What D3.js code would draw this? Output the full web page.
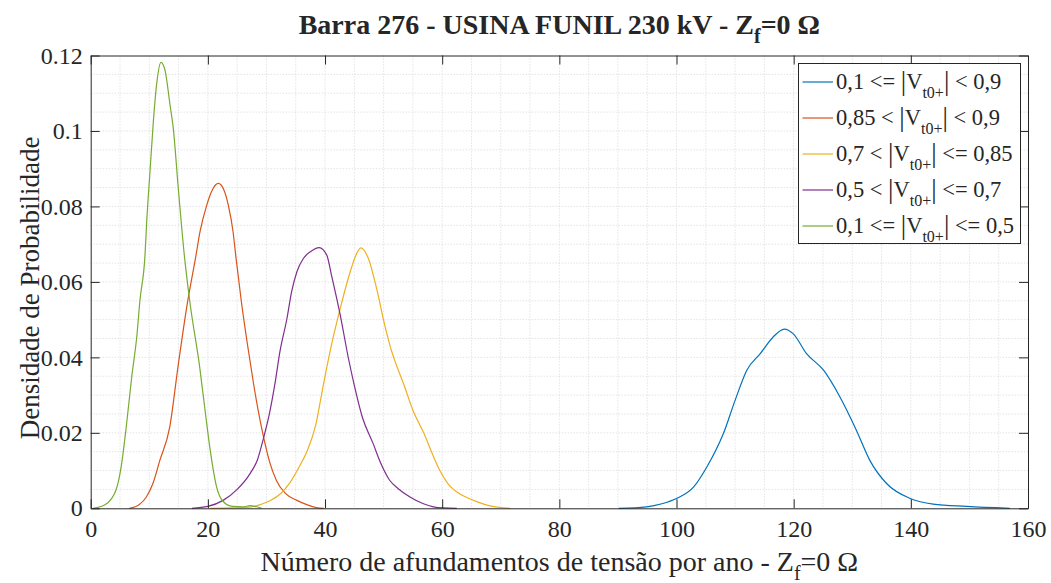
<!DOCTYPE html>
<html>
<head>
<meta charset="utf-8">
<script src="https://cdn.jsdelivr.net/npm/d3@7/dist/d3.min.js"></script>
<style>
  html, body { margin: 0; padding: 0; background: #fff; }
  svg { display: block; }
  text { font-family: "Liberation Serif", "Times New Roman", serif; fill: #262626; }
</style>
</head>
<body>
<svg id="chart" width="1051" height="583"></svg>
<script>
// Kernel density estimates of annual voltage sag counts, per residual-voltage band
const xTicks = [0, 20, 40, 60, 80, 100, 120, 140, 160];
const yTicks = [0, 0.02, 0.04, 0.06, 0.08, 0.1, 0.12];
const yTickLabels = ["0", "0.02", "0.04", "0.06", "0.08", "0.1", "0.12"];

// 0,1 <= |V| < 0,9
const densAll = [
  [90.1, 0], [94.9, 0.0004], [97.5, 0.0012], [100.0, 0.0026], [102.9, 0.0056], [105.2, 0.011],
  [108.0, 0.0198], [110.0, 0.0286], [112.0, 0.0366], [114.3, 0.041], [116.5, 0.0454],
  [118.4, 0.0475], [119.9, 0.0463], [122.2, 0.041], [125.1, 0.0366], [127.9, 0.0295],
  [130.7, 0.0207], [133.0, 0.0127], [135.9, 0.0065], [139.9, 0.0026], [143.8, 0.0011],
  [149.5, 0.0005], [156.9, 0]
];
// 0,85 < |V| < 0,9
const dens085 = [
  [6.6, 0], [8.3, 0.001], [9.5, 0.003], [10.6, 0.0065], [11.8, 0.0127], [13.5, 0.0216],
  [14.9, 0.0375], [16.4, 0.0534], [17.98, 0.0671], [18.66, 0.0733], [19.8, 0.0803],
  [20.8, 0.0845], [21.78, 0.0861], [22.7, 0.0845], [23.5, 0.0803], [24.3, 0.0733],
  [24.75, 0.0671], [25.7, 0.055], [26.7, 0.044], [27.8, 0.033], [28.7, 0.025],
  [29.5, 0.0189], [30.5, 0.0125], [31.7, 0.0074], [33.2, 0.004], [35.2, 0.0021],
  [37.0, 0.0009], [38.5, 0.0002], [39.8, 0]
];
// 0,7 < |V| <= 0,85
const dens07 = [
  [20.4, 0], [24.0, 0.0001], [27.2, 0.0003], [29.0, 0.001], [30.6, 0.002], [32.5, 0.004],
  [34.1, 0.007], [35.6, 0.011], [37.0, 0.0154], [38.4, 0.022], [39.7, 0.0326],
  [41.1, 0.0433], [42.6, 0.053], [44.3, 0.0627], [45.2, 0.0668], [46.1, 0.069],
  [47.4, 0.0662], [48.8, 0.0583], [50.2, 0.0485], [51.4, 0.0415], [52.2, 0.0379],
  [53.5, 0.0326], [55.0, 0.026], [56.9, 0.0198], [58.3, 0.0145], [59.6, 0.010],
  [61.0, 0.0065], [62.5, 0.0043], [64.3, 0.0028], [66.0, 0.0017], [68.0, 0.0007],
  [70.0, 0.0002], [71.6, 0]
];
// 0,5 < |V| <= 0,7
const dens05 = [
  [17.3, 0], [20.0, 0.0005], [22.6, 0.0021], [25.0, 0.005], [27.2, 0.0092], [28.5, 0.013],
  [29.4, 0.018], [30.5, 0.025], [31.5, 0.0335], [32.3, 0.0415], [33.5, 0.0503],
  [34.3, 0.0574], [35.2, 0.0627], [36.3, 0.0662], [37.5, 0.068], [39.0, 0.0691],
  [40.3, 0.0671], [41.1, 0.0618], [42.6, 0.0512], [44.0, 0.0397], [45.0, 0.0326],
  [46.4, 0.024], [48.2, 0.0172], [49.5, 0.012], [51.0, 0.0075], [52.5, 0.0052],
  [54.5, 0.003], [56.8, 0.0012], [58.5, 0.0004], [60.3, 0.0001], [62.5, 0]
];
// 0,1 <= |V| <= 0,5
const dens01 = [
  [0.4, 0], [2.5, 0.001], [4.3, 0.0048], [5.2, 0.011], [6.1, 0.022], [7.0, 0.0348],
  [7.9, 0.046], [8.4, 0.055], [9.27, 0.0671], [9.56, 0.0759], [10.12, 0.0892],
  [10.69, 0.1024], [11.3, 0.113], [12.0, 0.1182], [12.7, 0.116], [13.54, 0.1069],
  [14.1, 0.1007], [14.95, 0.0848], [15.98, 0.0671], [16.9, 0.055], [18.6, 0.0375],
  [19.6, 0.025], [20.4, 0.0154], [21.5, 0.0056], [22.5, 0.002], [24.2, 0.0005],
  [26.0, 0.0004], [27.2, 0.0007], [28.3, 0.0004], [29.2, 0]
];

const seriesData = [densAll, dens085, dens07, dens05, dens01];
const seriesColors = ["#0072BD", "#D95319", "#EDB120", "#7E2F8E", "#77AC30"];
// legend label pieces: text before |V_t0+| and text after it
const legendPrefix = ["0,1 <= ", "0,85 < ", "0,7 < ", "0,5 < ", "0,1 <= "];
const legendSuffix = [" < 0,9", " < 0,9", " <= 0,85", " <= 0,7", " <= 0,5"];

const svg = d3.select("#chart");
const margin = { left: 90.7, right: 1028, top: 55.5, bottom: 508.3 };

const x = d3.scaleLinear().domain([0, 160]).range([margin.left, margin.right]);
const y = d3.scaleLinear().domain([0, 0.12]).range([margin.bottom, margin.top]);

// grid (major + minor, dotted)
const grid = svg.append("g");
grid.selectAll("line.gx").data(d3.range(5, 160, 5)).join("line")
  .attr("x1", d => x(d)).attr("x2", d => x(d))
  .attr("y1", margin.top).attr("y2", margin.bottom)
  .attr("stroke", "#d6d6d6").attr("stroke-width", 1).attr("stroke-dasharray", "1,2");
grid.selectAll("line.gy").data(d3.range(1, 24).map(i => i * 0.005)).join("line")
  .attr("y1", d => y(d)).attr("y2", d => y(d))
  .attr("x1", margin.left).attr("x2", margin.right)
  .attr("stroke", "#d6d6d6").attr("stroke-width", 1).attr("stroke-dasharray", "1,2");

// curves
const line = d3.line()
  .x(d => x(d[0]))
  .y(d => y(d[1]))
  .curve(d3.curveMonotoneX);

svg.append("g").selectAll("path").data(seriesData).join("path")
  .attr("d", d => line(d))
  .attr("fill", "none")
  .attr("stroke", (d, i) => seriesColors[i])
  .attr("stroke-width", 1.2);

// axes with inward ticks on all four sides
const tickLen = 9;
const axB = svg.append("g").attr("transform", `translate(0,${margin.bottom})`)
  .call(d3.axisBottom(x).tickValues(xTicks).tickSizeInner(-tickLen).tickSizeOuter(0).tickPadding(12));
const axT = svg.append("g").attr("transform", `translate(0,${margin.top})`)
  .call(d3.axisTop(x).tickValues(xTicks).tickSizeInner(-tickLen).tickSizeOuter(0).tickFormat(""));
const axL = svg.append("g").attr("transform", `translate(${margin.left},0)`)
  .call(d3.axisLeft(y).tickValues(yTicks).tickSizeInner(-tickLen).tickSizeOuter(0).tickPadding(8)
    .tickFormat((d, i) => yTickLabels[i]));
const axR = svg.append("g").attr("transform", `translate(${margin.right},0)`)
  .call(d3.axisRight(y).tickValues(yTicks).tickSizeInner(-tickLen).tickSizeOuter(0).tickFormat(""));

[axB, axT, axL, axR].forEach(a => {
  a.selectAll(".domain").attr("stroke", "#262626").attr("stroke-width", 1);
  a.selectAll(".tick line").attr("stroke", "#262626").attr("stroke-width", 1);
  a.selectAll(".tick text").attr("fill", "#262626")
    .style("font-family", '"Liberation Serif", serif').style("font-size", "24px");
});
axB.selectAll(".tick text").attr("dy", "0.71em");

// title
const title = svg.append("text")
  .attr("x", (margin.left + margin.right) / 2).attr("y", 34)
  .attr("text-anchor", "middle")
  .style("font-size", "28px").style("font-weight", "bold").attr("fill", "#000");
title.append("tspan").text("Barra 276 - USINA FUNIL 230 kV - Z");
title.append("tspan").attr("dy", 9).style("font-size", "20px").text("f");
title.append("tspan").attr("dy", -9).text("=0 Ω");

// x axis label
const xl = svg.append("text")
  .attr("x", (margin.left + margin.right) / 2).attr("y", 571)
  .attr("text-anchor", "middle").style("font-size", "28px");
xl.append("tspan").text("Número de afundamentos de tensão por ano - Z");
xl.append("tspan").attr("dy", 9).style("font-size", "20px").text("f");
xl.append("tspan").attr("dy", -9).text("=0 Ω");

// y axis label
svg.append("text")
  .attr("transform", `translate(39,${(margin.top + margin.bottom) / 2 + 6}) rotate(-90)`)
  .attr("text-anchor", "middle").style("font-size", "27px")
  .text("Densidade de Probabilidade");

// legend
const lg = svg.append("g");
lg.append("rect")
  .attr("x", 798.5).attr("y", 63.5).attr("width", 222).attr("height", 180)
  .attr("fill", "#fff").attr("stroke", "#262626").attr("stroke-width", 1);
const rowY = [82, 118, 154, 190, 226];
seriesColors.forEach((c, i) => {
  lg.append("line")
    .attr("x1", 802.5).attr("x2", 833).attr("y1", rowY[i]).attr("y2", rowY[i])
    .attr("stroke", c).attr("stroke-width", 1.2);
  const t = lg.append("text").attr("x", 836).attr("y", rowY[i] + 7).style("font-size", "22.5px");
  t.append("tspan").text(legendPrefix[i]);
  t.append("tspan").style("font-size", "27px").attr("dy", 1).text("|");
  t.append("tspan").style("font-size", "22.5px").attr("dy", -1).text("V");
  t.append("tspan").style("font-size", "16px").attr("dy", 9).text("t0+");
  t.append("tspan").style("font-size", "27px").attr("dy", -8).text("|");
  t.append("tspan").style("font-size", "22.5px").attr("dy", -1).text(legendSuffix[i]);
});
</script>
</body>
</html>
